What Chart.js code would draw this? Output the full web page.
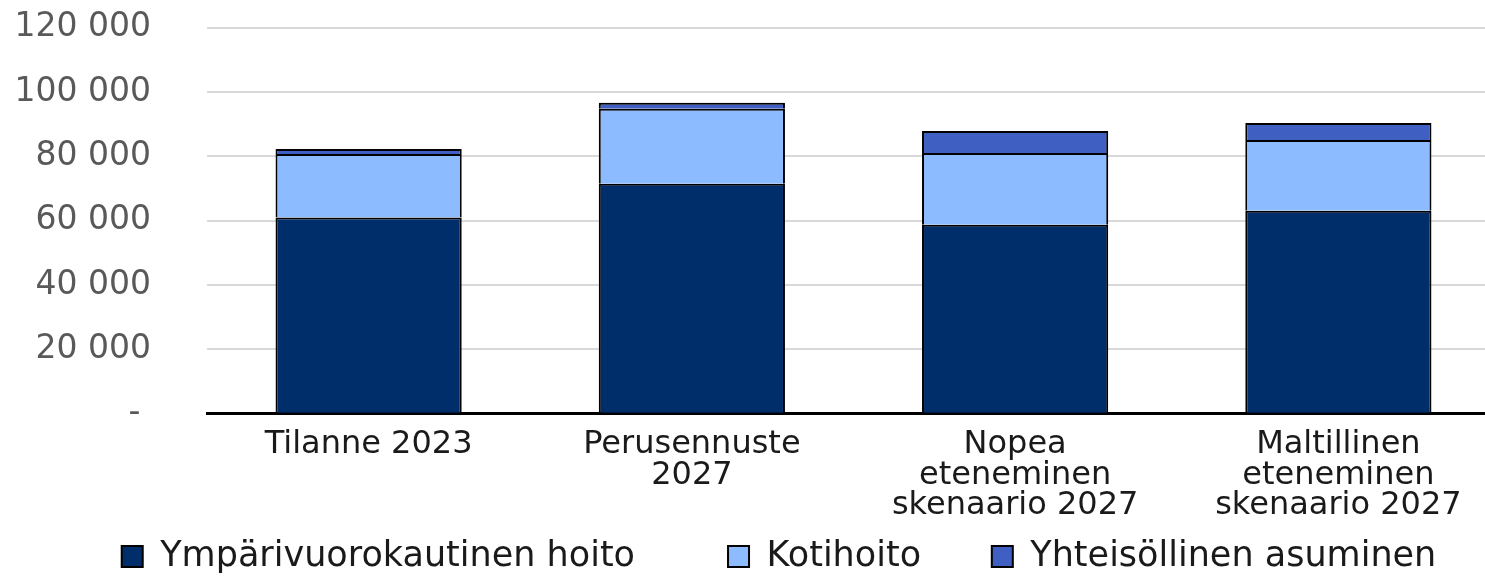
<!DOCTYPE html>
<html>
<head>
<meta charset="utf-8">
<script src="https://cdn.jsdelivr.net/npm/chart.js@4"></script>
<style>
  html, body { margin: 0; padding: 0; background: #fff; overflow: hidden; }
  #wrap { width: 1500px; height: 626px; margin-top: -48px; }
</style>
</head>
<body>
<div id="wrap"><canvas id="chart"></canvas></div>
<script>
const categories = [
  'Tilanne 2023',
  ['Perusennuste', '2027'],
  ['Nopea', 'eteneminen', 'skenaario 2027'],
  ['Maltillinen', 'eteneminen', 'skenaario 2027']
];
const ymparivuorokautinen = [61000, 71500, 58800, 63100];
const kotihoito           = [19800, 23300, 22300, 22000];
const yhteisollinen       = [1500, 1900, 6800, 5300];

const seriesNames  = ['Ympärivuorokautinen hoito', 'Kotihoito', 'Yhteisöllinen asuminen'];
const seriesColors = ['#002e6b', '#8dbbff', '#3f60c2'];
// extra gap after each legend entry (excel spacing)
const legendGaps   = ['        ', '      ', ''];

const fmt = v => v === 0 ? '- ' : v.toLocaleString('fi-FI').replace(/\s/g, ' ');

// legend sits a bit right of the canvas centre in the original
const legendShift = {
  id: 'legendShift',
  afterLayout(c) {
    c.legend.left = 58;
    c.legend.top += 6;
  }
};

new Chart(document.getElementById('chart'), {
  type: 'bar',
  data: {
    labels: categories,
    datasets: [ymparivuorokautinen, kotihoito, yhteisollinen].map((d, i) => ({
      label: seriesNames[i],
      data: d,
      backgroundColor: seriesColors[i],
      borderColor: '#000',
      borderWidth: 2,
      categoryPercentage: 1,
      barPercentage: 0.576
    }))
  },
  options: {
    responsive: true,
    maintainAspectRatio: false,
    animation: false,
    layout: { padding: { top: 12, left: 4, right: 0, bottom: 0 } },
    plugins: {
      tooltip: { enabled: false },
      legend: {
        position: 'bottom',
        labels: {
          font: { family: 'DejaVu Sans', size: 35, lineHeight: 1.0 },
          color: '#1a1a1a',
          boxWidth: 21,
          boxHeight: 21,
          padding: 4,
          generateLabels(c) {
            const items = Chart.defaults.plugins.legend.labels.generateLabels(c);
            items.forEach((it, i) => { it.text = it.text + legendGaps[i]; });
            return items;
          }
        }
      }
    },
    scales: {
      x: {
        stacked: true,
        grid: { display: false },
        border: { display: true, color: '#000', width: 3 },
        ticks: {
          font: { family: 'DejaVu Sans', size: 32, lineHeight: 0.95 },
          color: '#1a1a1a',
          maxRotation: 0,
          autoSkip: false,
          padding: 8
        }
      },
      y: {
        stacked: true,
        min: 0,
        max: 120000,
        border: { display: false },
        grid: { color: '#d9d9d9', lineWidth: 2, drawTicks: false },
        afterFit(scale) { scale.width = 203; },
        ticks: {
          stepSize: 20000,
          font: { family: 'DejaVu Sans', size: 33 },
          color: '#595959',
          padding: 56,
          callback: v => fmt(v)
        }
      }
    }
  },
  plugins: [legendShift]
});
</script>
</body>
</html>
